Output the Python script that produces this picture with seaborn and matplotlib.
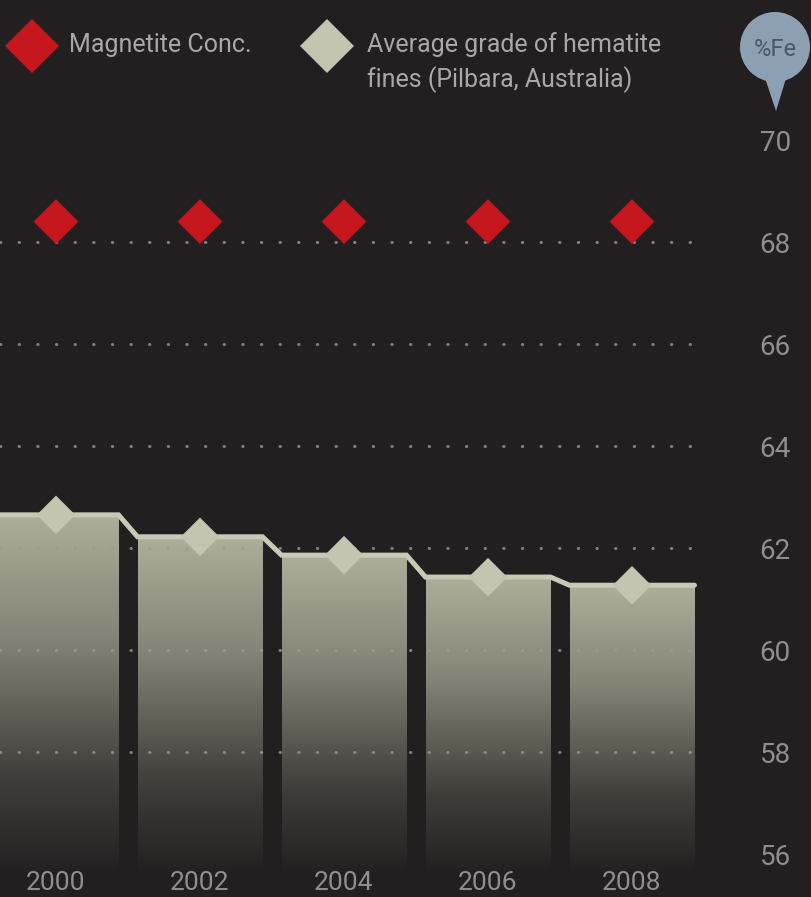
import numpy as np
import pandas as pd
import matplotlib
matplotlib.use("Agg")
import matplotlib.pyplot as plt
from matplotlib.patches import Circle, Polygon
from matplotlib.colors import LinearSegmentedColormap
import seaborn as sns

# ---- data ----
years = ["2000", "2002", "2004", "2006", "2008"]
hematite = [62.65, 62.22, 61.86, 61.43, 61.27]
magnetite = [68.4, 68.4, 68.4, 68.4, 68.4]
yticks = [56, 58, 60, 62, 64, 66, 68, 70]
grid_vals = [58, 60, 62, 64, 66, 68]

BG = "#231f20"
TXT = "#8f8f8f"
RED = "#c4161c"
BEIGE = "#c4c4b0"
LINE = "#c9c9b6"

sns.set_theme(style="dark")
plt.rcParams["font.family"] = ["Roboto", "DejaVu Sans"]

fig = plt.figure(figsize=(8.12, 8.97), dpi=100)
fig.patch.set_facecolor(BG)
ax = fig.add_axes([0, 27/897, 700/812, 870/897])
ax.set_facecolor(BG)

df = pd.DataFrame({"year": years, "hematite": hematite, "magnetite": magnetite})

sns.barplot(data=df, x="year", y="hematite", ax=ax, width=0.868,
            color=BEIGE, saturation=1, zorder=2)

ymin, ymax = 70 - 730/51, 70 + 140/51
ax.set_ylim(ymin, ymax)
ax.set_xlim(-56/144, 644/144)

# gradient fill for bars
cmap = LinearSegmentedColormap.from_list(
    "g", [(0.0, "#aeae9b"), (0.35, "#858375"), (0.75, "#3f3c39"), (1.0, "#252122")])
grad = np.linspace(0, 1, 256).reshape(-1, 1)
patches = list(ax.patches)
for p in patches:
    x0, w, h = p.get_x(), p.get_width(), p.get_height()
    top = p.get_y() + h
    im = ax.imshow(grad, cmap=cmap, aspect="auto",
                   extent=[x0, x0 + w, ymin, top], origin="upper", zorder=2)
    im.set_clip_path(p)
    p.set_facecolor("none")
    p.set_edgecolor("none")

# step line across bar tops
xs, ys = [], []
for p, v in zip(patches, hematite):
    xs += [p.get_x(), p.get_x() + p.get_width()]
    ys += [v, v]
xs[0] = -1
ax.plot(xs, ys, color=LINE, lw=3.6, solid_joinstyle="miter", zorder=3)

# gridlines (dotted)
for g in grid_vals:
    ax.axhline(g, xmin=0, xmax=693/700, color="#9a9a9a", lw=2.2,
               linestyle=(0, (0.1, 6)), dash_capstyle="round",
               alpha=0.8, zorder=4)

# markers
sns.scatterplot(data=df, x="year", y="hematite", marker="D", s=385,
                color=BEIGE, edgecolor="none", ax=ax, zorder=5, legend=False)
sns.scatterplot(data=df, x="year", y="magnetite", marker="D", s=520,
                color=RED, edgecolor="none", ax=ax, zorder=5, legend=False)

# axes styling
ax.yaxis.tick_right()
ax.set_yticks(yticks)
ax.set_yticklabels([str(t) for t in yticks])
ax.tick_params(axis="y", length=0, pad=43, labelsize=20, labelcolor=TXT)
ax.tick_params(axis="x", length=0, pad=1, labelsize=19, labelcolor=TXT)
ax.set_xlabel("")
ax.set_ylabel("")
ax.grid(False)
for s in ax.spines.values():
    s.set_visible(False)

# legend (manual, in figure pixels)
def px(x, y):
    return (x / 812, 1 - y / 897)

lx, ly = px(32, 46)
fig.add_artist(plt.Line2D([lx], [ly], marker="D", markersize=27, color=RED,
                          markeredgewidth=0, linestyle="none"))
fig.text(*px(69, 45), "Magnetite Conc.", color="#a8a8a8", fontsize=18,
         va="center", ha="left")
lx, ly = px(327, 46)
fig.add_artist(plt.Line2D([lx], [ly], marker="D", markersize=27, color=BEIGE,
                          markeredgewidth=0, linestyle="none"))
fig.text(*px(367, 45), "Average grade of hematite", color="#a8a8a8", fontsize=18,
         va="center", ha="left")
fig.text(*px(367, 80), "fines (Pilbara, Australia)", color="#a8a8a8", fontsize=18,
         va="center", ha="left")

# %Fe bubble
bubble_ax = fig.add_axes([0, 0, 1, 1], facecolor="none")
bubble_ax.set_xlim(0, 812)
bubble_ax.set_ylim(897, 0)
bubble_ax.axis("off")
bubble_ax.add_patch(Polygon([[763, 72], [788, 72], [776, 111]], closed=True,
                            facecolor="#8da0b3", edgecolor="none"))
bubble_ax.add_patch(Circle((775, 47), 35, facecolor="#8da0b3", edgecolor="none"))
bubble_ax.text(775, 49, "%Fe", color="#4a5866", fontsize=17, ha="center", va="center")

fig.savefig("out.png", dpi=100, facecolor=BG)
